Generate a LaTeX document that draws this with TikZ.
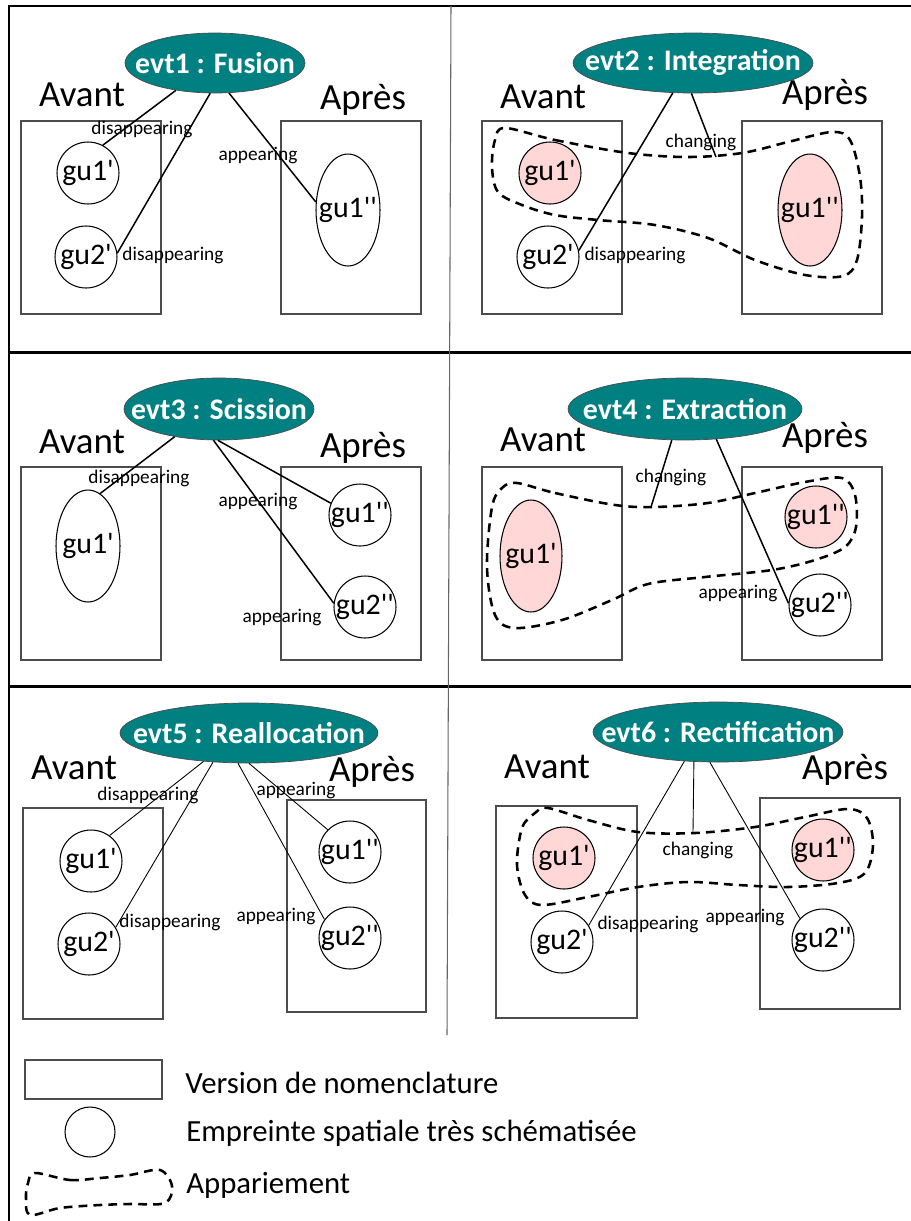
\documentclass[tikz,border=0pt]{standalone}
\usepackage{fontspec}
\setmainfont{Carlito}[Ligatures=TeXOff]
\usetikzlibrary{shapes.geometric}

\definecolor{evtteal}{RGB}{0,128,128}
\definecolor{gupink}{RGB}{255,215,215}
\newcommand{\ctext}[1]{\makebox[0pt]{#1}}

\begin{document}
\begin{tikzpicture}[x=0.02cm, y=-0.02cm,
    evt/.style={ellipse, draw=black!70, fill=evtteal, text=white, inner sep=0pt, minimum height=1.2cm, font=\fontsize{17}{17}\selectfont\bfseries},
    gu/.style={circle, draw, line width=0.6pt, inner sep=0pt, minimum size=1.24cm, font=\fontsize{17}{17}\selectfont},
    guell/.style={ellipse, draw, line width=0.6pt, inner sep=0pt, minimum width=1.28cm, minimum height=2.24cm, font=\fontsize{17}{17}\selectfont},
    version/.style={draw=black!70, line width=0.6pt},
    phase/.style={font=\fontsize{21}{21}\selectfont, inner sep=0pt},
    rel/.style={font=\fontsize{11}{11}\selectfont, inner sep=0pt},
    legend/.style={font=\fontsize{17.5}{17.5}\selectfont, inner sep=0pt, anchor=west},
    link/.style={line width=0.85pt},
    thinlink/.style={line width=0.5pt},
    appa/.style={line width=1.45pt, dash pattern=on 5pt off 3.5pt},
    frame/.style={line width=1.7pt}]
    \useasboundingbox (0,0) rectangle (911,1221);

    \draw[frame] (9,1221) -- (9,6) -- (911,6);
    \draw[frame] (9,352) -- (911,352);
    \draw[frame] (9,686) -- (911,686);
    \draw[black!60, line width=0.6pt] (451,6) -- (447,1035);

    % evt1 : Fusion
    \node[evt, minimum width=3.6cm] (e1) at (215,63) {\ctext{evt1 : Fusion}};
    \node[phase] (p1av) at (82,95) {Avant};
    \node[phase] (p1ap) at (363,100) {Après};
    \draw[version] (21,121) rectangle (161,314);
    \draw[version] (281,121) rectangle (421,314);
    \node[gu] (p1g1) at (88,173) {\ctext{gu1'}};
    \node[gu] (p1g2) at (86,257) {\ctext{gu2'}};
    \node[guell] (p1h1) at (348,210) {\ctext{gu1''}};
    \draw[link] (e1.-145) -- (p1g1.62);
    \draw[link] (e1.-99) -- (p1g2.7);
    \draw[link] (e1.-65) -- (p1h1.166);
    \node[rel] (p1l1) at (142,129) {disappearing};
    \node[rel] (p1l2) at (173,255) {disappearing};
    \node[rel] (p1l3) at (258,156) {appearing};

    % evt2 : Integration
    \node[evt, minimum width=4.8cm] (e2) at (693,63) {\ctext{evt2 : Integration}};
    \node[phase] (p2av) at (543,97) {Avant};
    \node[phase] (p2ap) at (825,95) {Après};
    \draw[version] (482,121) rectangle (622,314);
    \draw[version] (742,121) rectangle (882,314);
    \node[gu, fill=gupink] (p2g1) at (550,173) {\ctext{gu1'}};
    \node[gu] (p2g2) at (548,257) {\ctext{gu2'}};
    \node[guell, fill=gupink] (p2h1) at (810,210) {\ctext{gu1''}};
    \draw[appa] plot[smooth cycle, tension=0.55] coordinates {(505,128) (555,140) (628,153) (688,157) (742,153) (788,142) (832,132) (850,140) (860,177) (862,217) (857,260) (843,276) (805,275) (755,260) (708,238) (655,225) (598,220) (555,215) (522,205) (498,192) (492,167) (495,140)};
    \coordinate (c2) at (716,157);
    \draw[link] (e2.-124) -- (p2g2.12);
    \draw[link] (e2.-93) -- (c2);
    \node[rel] (p2l1) at (701,142) {changing};
    \node[rel] (p2l2) at (635,255) {disappearing};

    % evt3 : Scission
    \node[evt, minimum width=3.8cm, minimum height=1.24cm] (e3) at (219,409) {\ctext{evt3 : Scission}};
    \node[phase] (p3av) at (82,442) {Avant};
    \node[phase] (p3ap) at (363,448) {Après};
    \draw[version] (21,467) rectangle (161,660);
    \draw[version] (281,467) rectangle (421,660);
    \node[guell] (p3g1) at (88,546) {\ctext{gu1'}};
    \node[gu] (p3h1) at (360,515) {\ctext{gu1''}};
    \node[gu] (p3h2) at (365,607) {\ctext{gu2''}};
    \draw[link] (e3.-148) -- (p3g1.77);
    \draw[link] (e3.-92) -- (p3h1.158);
    \draw[link] (e3.-100) -- (p3h2.173);
    \node[rel] (p3l1) at (139,478) {disappearing};
    \node[rel] (p3l2) at (258,502) {appearing};
    \node[rel] (p3l3) at (282,618) {appearing};

    % evt4 : Extraction
    \node[evt, minimum width=4.68cm, minimum height=1.24cm] (e4) at (685,409) {\ctext{evt4 : Extraction}};
    \node[phase] (p4av) at (543,440) {Avant};
    \node[phase] (p4ap) at (825,438) {Après};
    \draw[version] (482,467) rectangle (622,660);
    \draw[version] (742,467) rectangle (882,660);
    \node[guell, minimum width=1.24cm, fill=gupink] (p4g1) at (531,556) {\ctext{gu1'}};
    \node[gu, fill=gupink] (p4h1) at (816,517) {\ctext{gu1''}};
    \node[gu] (p4h2) at (820,605) {\ctext{gu2''}};
    \draw[appa] plot[smooth cycle, tension=0.55] coordinates {(517,483) (555,493) (615,505) (655,507) (708,503) (755,493) (805,482) (842,478) (855,495) (856,527) (845,547) (815,560) (772,570) (705,577) (648,584) (612,600) (562,620) (515,628) (495,615) (487,567) (492,507) (502,488)};
    \coordinate (c4) at (651,507);
    \draw[link] (e4.-113) -- (c4);
    \draw[link] (e4.-44) -- (p4h2.177);
    \node[rel] (p4l1) at (671,477) {changing};
    \node[rel] (p4l2) at (738,594) {appearing};

    % evt5 : Reallocation
    \node[evt, minimum width=5.16cm] (e5) at (249,733) {\ctext{evt5 : Reallocation}};
    \node[phase] (p5av) at (74,768) {Avant};
    \node[phase] (p5ap) at (372,772) {Après};
    \draw[version] (23,808) rectangle (163,1019);
    \draw[version] (287,800) rectangle (426,1012);
    \node[gu] (p5g1) at (91,861) {\ctext{gu1'}};
    \node[gu] (p5g2) at (89,944) {\ctext{gu2'}};
    \node[gu] (p5h1) at (350,852) {\ctext{gu1''}};
    \node[gu] (p5h2) at (350,938) {\ctext{gu2''}};
    \draw[thinlink] (e5.-148) -- (p5g1.54);
    \draw[thinlink] (e5.-141) -- (p5g2.32);
    \draw[thinlink] (e5.-110) -- (p5h2.144);
    \draw[thinlink] (e5.-90) -- (p5h1.135);
    \node[rel] (p5l1) at (148,795) {disappearing};
    \node[rel] (p5l2) at (170,922) {disappearing};
    \node[rel] (p5l3) at (276,916) {appearing};
    \node[rel] (p5l4) at (296,791) {appearing};

    % evt6 : Rectification
    \node[evt, minimum width=5.0cm] (e6) at (718,732) {\ctext{evt6 : Rectification}};
    \node[phase] (p6av) at (547,767) {Avant};
    \node[phase] (p6ap) at (845,770) {Après};
    \draw[version] (496,806) rectangle (637,1018);
    \draw[version] (760,798) rectangle (900,1009);
    \node[gu, fill=gupink] (p6g1) at (564,858) {\ctext{gu1'}};
    \node[gu] (p6g2) at (562,942) {\ctext{gu2'}};
    \node[gu, fill=gupink] (p6h1) at (823,850) {\ctext{gu1''}};
    \node[gu] (p6h2) at (823,940) {\ctext{gu2''}};
    \draw[appa] plot[smooth cycle, tension=0.55] coordinates {(548,808) (588,820) (638,832) (695,833) (755,827) (805,817) (848,809) (867,818) (873,845) (865,873) (838,883) (788,887) (738,885) (688,882) (638,887) (588,897) (542,905) (525,895) (517,865) (522,828) (535,813)};
    \coordinate (c6) at (693,833);
    \draw[thinlink] (e6.-139) -- (p6g2.32);
    \draw[thinlink] (e6.-129) -- (c6);
    \draw[thinlink] (e6.-105) -- (p6h2.137);
    \node[rel] (p6l1) at (648,924) {disappearing};
    \node[rel] (p6l2) at (698,850) {changing};
    \node[rel] (p6l3) at (745,918) {appearing};

    % legende
    \draw[version] (25,1060) rectangle (162,1099);
    \node[legend] (lg1) at (185,1083) {Version de nomenclature};
    \node[gu, minimum size=1cm] (lgc) at (90,1132) {};
    \node[legend] (lg2) at (186,1133) {Empreinte spatiale très schématisée};
    \draw[appa] plot[smooth cycle, tension=0.55] coordinates {(35,1173) (70,1180) (100,1178) (130,1175) (160,1170) (172,1186) (165,1203) (130,1204) (100,1205) (60,1208) (30,1215) (26,1198) (28,1183)};
    \node[legend] (lg3) at (186,1185) {Appariement};
\end{tikzpicture}
\end{document}
